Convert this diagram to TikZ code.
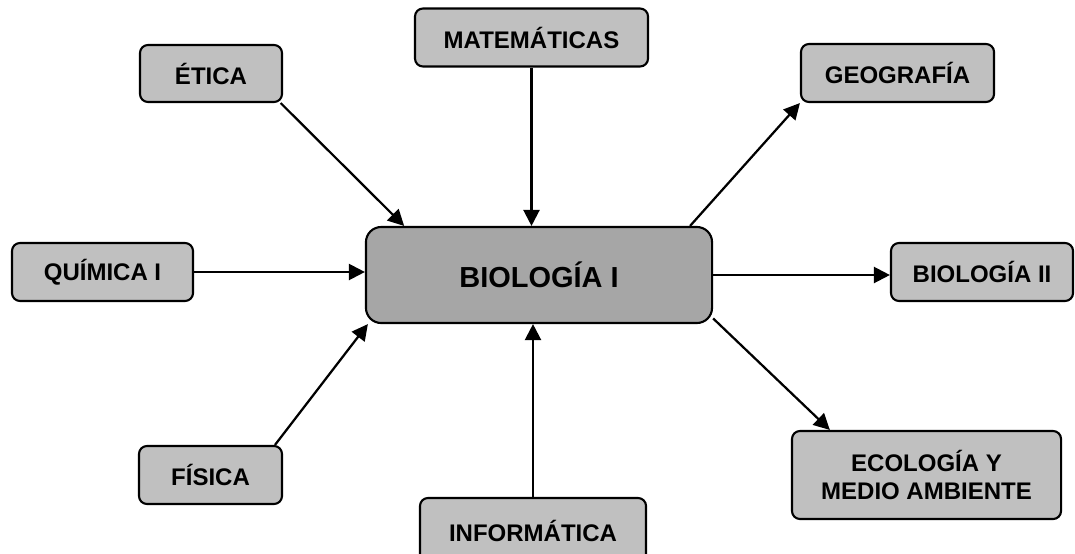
\documentclass[tikz,border=0pt]{standalone}
\usepackage{fontspec}
\setmainfont{Liberation Sans}
\usetikzlibrary{arrows.meta}
\definecolor{boxgray}{HTML}{C0C0C0}
\definecolor{maingray}{HTML}{A6A6A6}
\tikzset{
	subject/.style={draw=black, line width=1.5pt, fill=boxgray, rounded corners=0.2cm,
		inner sep=0pt, minimum height=1.45cm, align=center,
		font=\fontsize{17.07pt}{19.9pt}\selectfont\bfseries},
	core/.style={subject, fill=maingray, rounded corners=0.38cm,
		font=\fontsize{20.6pt}{24pt}\selectfont\bfseries},
	link/.style={line width=1.6pt, -{Triangle[length=0.4cm,width=0.4cm]}}
}

\begin{document}
\begin{tikzpicture}[x=0.025cm, y=-0.025cm]
			%%%%% START %%%%%
			
			\useasboundingbox (0, 0) rectangle (1075, 553);
			
			\node[core, minimum width=8.65cm, minimum height=2.4cm] (bio) at (539, 275) {BIOLOG\'IA I};
			
			\node[subject, minimum width=3.55cm, minimum height=1.425cm] (etica) at (211, 73.5) {\'ETICA};
			\node[subject, minimum width=5.825cm] (mate) at (531.5, 37.5) {MATEM\'ATICAS};
			\node[subject, minimum width=4.825cm] (geo) at (897.5, 73) {GEOGRAF\'IA};
			
			\node[subject, minimum width=4.525cm] (quimica) at (102.5, 272) {QU\'IMICA I};
			\node[subject, minimum width=4.55cm] (bio2) at (982, 272) {BIOLOG\'IA II};
			
			\node[subject, minimum width=3.575cm] (fisica) at (210.5, 475) {F\'ISICA};
			\node[subject, minimum width=5.65cm, minimum height=1.65cm] (info) at (533, 531) {INFORM\'ATICA};
			\node[subject, minimum width=6.725cm, minimum height=2.2cm] (eco) at (926.5, 475) {ECOLOG\'IA Y\\MEDIO AMBIENTE};
			
			% entradas
			\draw[link] (etica.337) -- (bio.160);
			\draw[link] (mate.south) -- (mate.south |- bio.north);
			\draw[link] (quimica.east) -- (quimica.east -| bio.west);
			\draw[link] (fisica.25) -- (bio.196);
			\draw[link] (info.north) -- (info.north |- bio.south);
			
			% salidas
			\draw[link] (bio.18) -- (geo.south west);
			\draw[link] (bio.east) -- (bio.east -| bio2.west);
			\draw[link] (bio.346) -- (eco.155);
			
			%%%%% END %%%%%
\end{tikzpicture}
\end{document}
